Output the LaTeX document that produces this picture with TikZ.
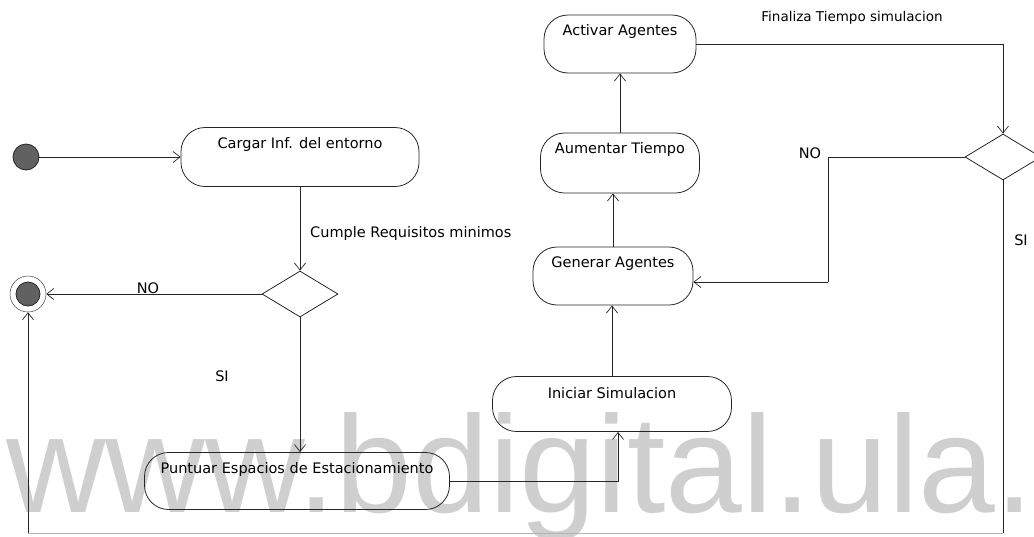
\documentclass[tikz,border=0pt]{standalone}
\usepackage{fontspec}
\setmainfont{DejaVu Sans}
\newfontfamily\wmfont{Liberation Sans}
\usetikzlibrary{arrows.meta,shapes.geometric}
\begin{document}
\begin{tikzpicture}[x=1pt,y=-1pt,
  line/.style={draw=black!85, line width=0.8pt},
  flow/.style={line, -{Straight Barb[length=7pt,width=11pt,line width=0.7pt]}},
  box/.style={line, rounded corners=24pt, inner sep=0pt},
  boxtext/.style={anchor=center, yshift=-17pt, font=\fontsize{14.5}{16}\selectfont, text=black, inner sep=0pt},
  decision/.style={line, diamond, minimum width=76pt, minimum height=46pt, inner sep=0pt},
  lbl/.style={font=\fontsize{14.5}{16}\selectfont, text=black, inner sep=0pt},
  faint/.style={draw=black!30, line width=0.6pt},
  startdot/.style={circle, fill=black!62, draw=black!85, line width=0.8pt, inner sep=0pt}
]
\useasboundingbox (0,0) rectangle (1034,536);
\begin{scope}
\clip (0,0) rectangle (1034,536);

% background lettering
\node[anchor=base west, inner sep=0pt, text=black!19,
      font=\wmfont\fontsize{138}{140}\selectfont] (wm) at (6,512) {www.bdigital.ula.};

% start and end states
\node[startdot, minimum size=26pt] (ini) at (26,157) {};
\node[circle, draw=black!75, line width=0.5pt, minimum size=36pt, inner sep=0pt] (fin) at (28,294) {};
\node[startdot, minimum size=24pt] (finc) at (28,294) {};

% activities
\node[box, minimum width=238pt, minimum height=59pt,
      label={[boxtext]north:Cargar Inf. del entorno}] (cargar) at (300,157) {};
\node[box, minimum width=305pt, minimum height=57pt,
      label={[boxtext]north:Puntuar Espacios de Estacionamiento}] (puntuar) at (297,481) {};
\node[box, minimum width=239pt, minimum height=55pt,
      label={[boxtext]north:Iniciar Simulacion}] (iniciar) at (612,404) {};
\node[box, minimum width=160pt, minimum height=58pt,
      label={[boxtext]north:Generar Agentes}] (generar) at (613,276) {};
\node[box, minimum width=159pt, minimum height=60pt,
      label={[boxtext]north:Aumentar Tiempo}] (aumentar) at (620,163) {};
\node[box, minimum width=152pt, minimum height=58pt,
      label={[boxtext]north:Activar Agentes}] (activar) at (620,44) {};

% decisions
\node[decision] (d1) at (300,294) {};
\node[decision] (d2) at (1003,157) {};

% helper points
\coordinate (pi) at (618,0);
\coordinate (nc) at (828,282);
\coordinate (br) at (1003,533);
\coordinate (bl) at (28,533);

% transitions
\draw[flow] (ini.east) -- (cargar.west);
\draw[flow] (cargar.south) -- (d1.north);
\draw[flow] (d1.west) -- (fin.east);
\draw[flow] (d1.south) -- (d1.south |- puntuar.north);
\draw[flow] (puntuar.east) -| (pi |- iniciar.south);
\draw[flow] (iniciar.north) -- (iniciar.north |- generar.south);
\draw[flow] (generar.north) -- (generar.north |- aumentar.south);
\draw[flow] (aumentar.north) -- (activar.south);
\draw[flow] (activar.east) -| (d2.north);
\draw[line] (d2.west) -| (nc);
\draw[flow] (nc) -- (nc -| generar.east);
\draw[line] (d2.south) -- (br);
\draw[faint] (br) -- (bl);
\draw[flow] (bl) -- (fin.south);

% guard labels
\node[lbl, anchor=west] (lcumple) at (310,233) {Cumple Requisitos minimos};
\node[lbl] (lno1) at (148,288) {NO};
\node[lbl] (lsi1) at (222,376) {SI};
\node[lbl, font=\fontsize{13.5}{15}\selectfont] (lfin) at (852,18) {Finaliza Tiempo simulacion};
\node[lbl] (lno2) at (810,153) {NO};
\node[lbl] (lsi2) at (1021,240) {SI};
\end{scope}
\end{tikzpicture}
\end{document}
